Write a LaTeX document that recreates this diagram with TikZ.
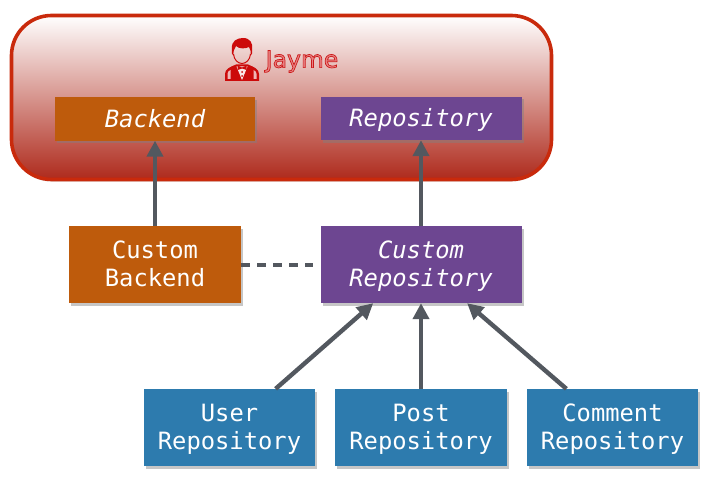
\documentclass[tikz,border=0pt]{standalone}
\usepackage{fontspec}
\setmonofont{DejaVu Sans Mono}
\newfontfamily\jaymefont{DejaVu Sans}
\usetikzlibrary{arrows.meta,shadows}
\definecolor{framered}{HTML}{C92A0C}
\definecolor{shadered}{HTML}{AE2A1C}
\definecolor{iconred}{HTML}{CC0A0A}
\definecolor{jaymepink}{HTML}{E88484}
\definecolor{backendorange}{HTML}{BE5B0C}
\definecolor{repopurple}{HTML}{6D4691}
\definecolor{userblue}{HTML}{2D7BAE}
\definecolor{linkgray}{HTML}{53585F}
\newcommand{\outlined}[1]{\special{pdf:code q 2 Tr 0.7 w 0.8 0.1 0.1 RG}#1\special{pdf:code Q}}

\begin{document}
\begin{tikzpicture}[x=1pt,y=-1pt,
    framebox/.style={rectangle,rounded corners=40pt,draw=framered,line width=3.6pt,top color=white,bottom color=shadered,
      drop shadow={shadow xshift=0pt,shadow yshift=-2pt,opacity=.3},minimum width=540pt,minimum height=164pt},
    block/.style={rectangle,drop shadow={shadow xshift=2pt,shadow yshift=-2.5pt,opacity=.45},text=white,align=center,
      font=\ttfamily\fontsize{23.8}{27.8}\selectfont,inner sep=0pt},
    small/.style={block,minimum height=43pt,text height=20.5pt,text depth=4pt,font=\ttfamily\itshape\fontsize{23.8}{27.8}\selectfont},
    large/.style={block,minimum height=77pt,text height=49pt,text depth=5pt},
    link/.style={draw=linkgray,line width=4.4pt,-{Triangle[length=16pt,width=16pt]}}]
  \path[use as bounding box] (0,0) rectangle (714,484);
  \path
  (281.5,97.5) node [framebox] (jayme) {}
  (302,61.5) node [text=jaymepink,font=\jaymefont\fontsize{23.5}{28}\selectfont] (jaymelabel) {\outlined{Jayme}}

  (155,119) node [small,fill=backendorange,minimum width=200pt] (backend) {Backend}
  (421,118.5) node [small,fill=repopurple,minimum width=201pt] (repo) {Repository}

  (155,264.5) node [large,fill=backendorange,minimum width=172pt] (cbackend) {Custom\\Backend}
  (421,264.5) node [large,fill=repopurple,minimum width=201pt,font=\ttfamily\itshape\fontsize{23.8}{27.8}\selectfont] (crepo) {Custom\\Repository}

  (229.5,427.5) node [large,fill=userblue,minimum width=171pt] (user) {User\\Repository}
  (421,427.5) node [large,fill=userblue,minimum width=172pt] (post) {Post\\Repository}
  (612.5,427.5) node [large,fill=userblue,minimum width=171pt] (comment) {Comment\\Repository}
  ;
  % waiter
  \begin{scope}[shift={(225,38)},iconred]
    \fill (7,11) .. controls (6,3) and (12,0) .. (18,0) .. controls (25,0) and (28,5) .. (27,11)
      .. controls (28,14) and (27,17) .. (25.5,18) .. controls (26,14) and (26,12) .. (24,9)
      .. controls (20,11) and (14,11) .. (11,8) .. controls (9,11) and (8,14) .. (8.5,18)
      .. controls (7,17) and (6,14) .. (7,11) -- cycle;
    \draw[line width=1pt] (8.5,16) .. controls (9,22) and (13,25.5) .. (17,25.5) .. controls (21,25.5) and (25,22) .. (25.5,16);
    \fill (0,43) -- (0,36) .. controls (0,31) and (5,29) .. (11,26.5) -- (23,26.5) .. controls (29,29) and (34,31) .. (34,36) -- (34,43) -- cycle;
    \fill[white,opacity=.7] (2.5,41) -- (2.5,36) .. controls (2.5,34) and (3.5,33) .. (5.5,32) -- (5.5,41) -- cycle
      (31.5,41) -- (31.5,36) .. controls (31.5,34) and (30.5,33) .. (28.5,32) -- (28.5,41) -- cycle;
    \fill[white,opacity=.9] (11.5,28.5) -- (22.5,28.5) -- (17,42) -- cycle;
    \fill (12.5,27.5) -- (17,29.5) -- (21.5,27.5) -- (21.5,32) -- (17,30.5) -- (12.5,32) -- cycle;
    \fill (17,34) circle (1) (17,38) circle (1);
  \end{scope}
  \draw[link] (cbackend) -- (backend);
  \draw[link] (crepo) -- (repo);
  \draw[link] (user.40) -- (crepo.219);
  \draw[link] (post) -- (crepo);
  \draw[link] (comment.140) -- (crepo.-40);
  \draw[draw=linkgray,line width=4pt,dash pattern=on 8.5pt off 7.5pt,shorten >=7pt] (cbackend) -- (crepo);
\end{tikzpicture}
\end{document}
